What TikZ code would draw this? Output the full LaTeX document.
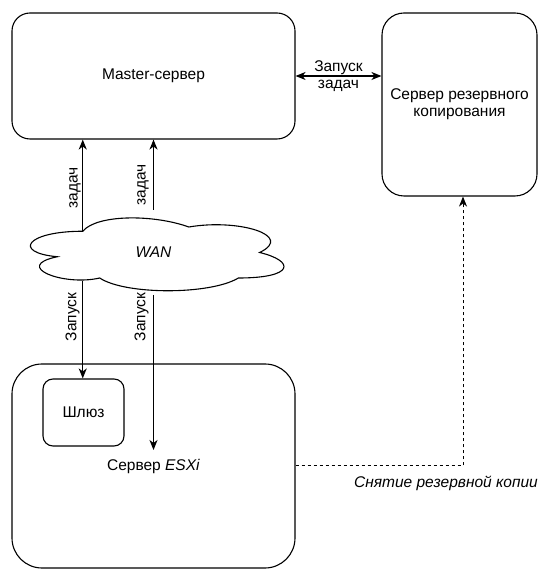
\documentclass[tikz,border=0pt]{standalone}
\usepackage{fontspec}
\setmainfont{Liberation Sans}
\usetikzlibrary{arrows.meta}

\begin{document}
\begin{tikzpicture}[x=1pt,y=1pt,line width=1.1pt,
                every node/.style={font=\fontsize{15.5}{17}\selectfont},
                box/.style={draw,rounded corners=#1,align=center,inner sep=0pt},
                box/.default=18pt,
                link/.style={-{Stealth[length=10pt,width=8pt,inset=3pt]}},
                twoway/.style={{Stealth[length=10pt,width=8pt,inset=3pt]}-{Stealth[length=10pt,width=8pt,inset=3pt]}}]
                \useasboundingbox (0,0) rectangle (539,570);

                \node[box=18pt,minimum width=283pt,minimum height=126pt] (master) at (153.5,494) {Master-сервер};
                \node[box=22pt,minimum width=155pt,minimum height=183pt] (backup) at (459.5,465.5) {Сервер резервного\\копирования};
                \node[box=30pt,minimum width=283pt,minimum height=204pt] (esxi) at (153.5,104) {Сервер \textit{ESXi}};
                \node[box=10pt,minimum width=81pt,minimum height=67pt] (gw) at (83.5,157.5) {Шлюз};
                \coordinate (esxiin) at (153.5,120);

                \begin{scope}[shift={(12,360)},x=283pt,y=-85pt]
                    \draw (0.25,0.25) .. controls (0.05,0.25) and (0,0.5) .. (0.16,0.55)
                        .. controls (0,0.66) and (0.18,0.9) .. (0.31,0.8)
                        .. controls (0.4,1) and (0.7,1) .. (0.8,0.8)
                        .. controls (1,0.8) and (1,0.6) .. (0.875,0.5)
                        .. controls (1,0.3) and (0.8,0.1) .. (0.625,0.2)
                        .. controls (0.5,0.05) and (0.3,0.05) .. (0.25,0.25) -- cycle;
                    \node (wan) at (0.5,0.5) {\textit{WAN}};
                    \coordinate (wantop) at (0.25,0.25);
                    \coordinate (wanbot) at (0.25,0.83);
                    \coordinate (wann) at (0.5,0);
                    \coordinate (wans) at (0.5,1);
                \end{scope}

                \draw[link] (wantop) -- (wantop |- master.south);
                \draw[link] (wann) -- (master.south);
                \draw[link] (wanbot) -- (wanbot |- gw.north);
                \draw[link] (wans) -- (esxiin);
                \node[rotate=90] (task1) at (75,382) {задач};
                \node[rotate=90] (task2) at (143,385) {задач};
                \node[rotate=90] (run1) at (72.5,253) {Запуск};
                \node[rotate=90] (run2) at (141.5,253) {Запуск};

                \draw[twoway] (master.east) -- (master.east -| backup.west)
                    node[midway,align=center] (runtask) {Запуск\\задач};

                \draw[link,line width=1pt,dash pattern=on 3pt off 3pt] (esxi.east) -| ([xshift=3.5pt]backup.south);
                \node (snap) at (446,87) {\textit{Снятие резервной копии}};
            \end{tikzpicture}
\end{document}
